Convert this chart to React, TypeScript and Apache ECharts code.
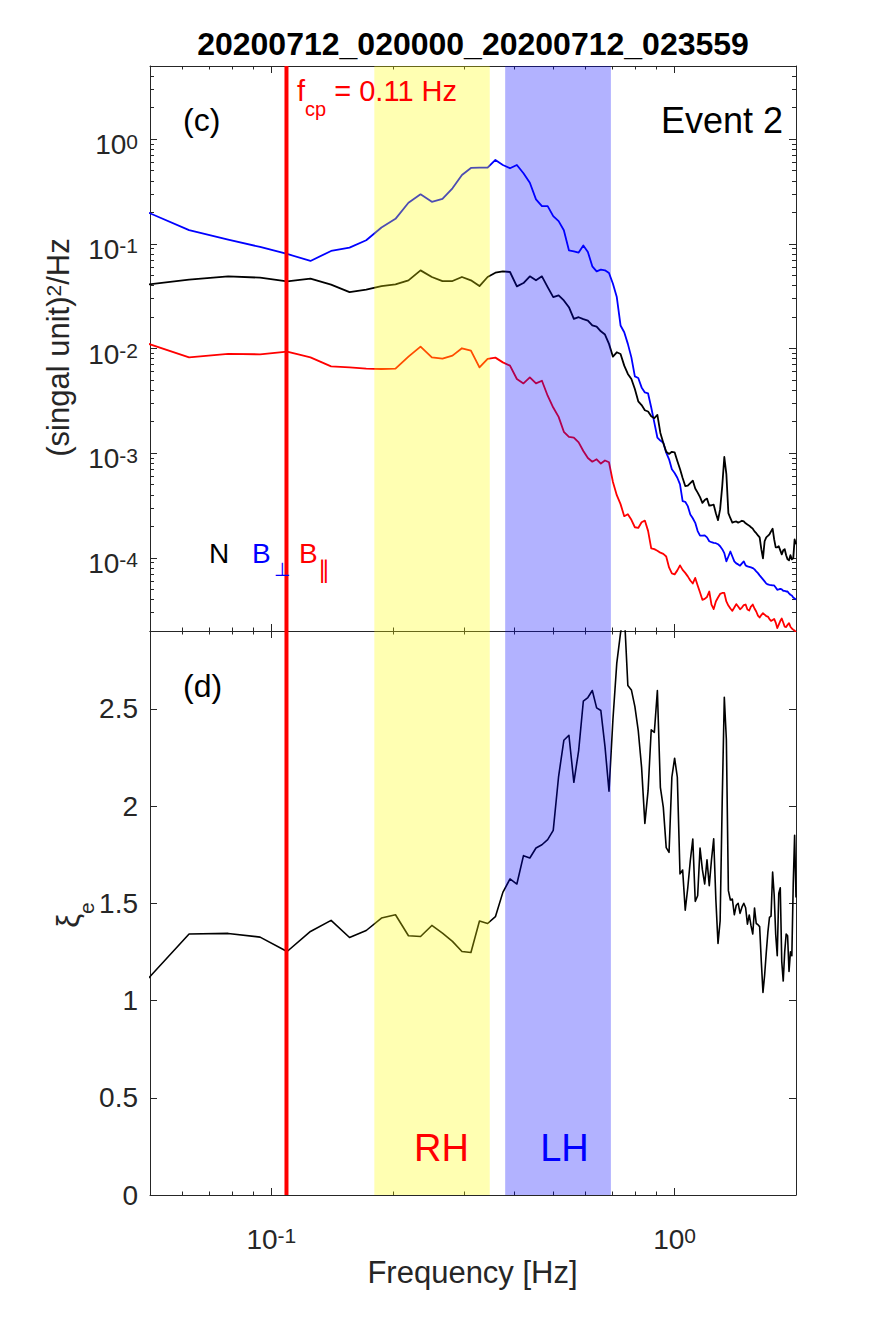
import React, { useEffect, useRef } from 'react';
import * as echarts from 'echarts';

// ---------------- data ----------------
const DF = 1 / 64; // spectral resolution (Hz)
const K_START = 3;
const K_END = 128;
const freqs: number[] = Array.from({ length: K_END - K_START + 1 }, (_, i) => (K_START + i) * DF);

// N  (black)
const nPower = [
  0.0399, 0.0455, 0.0489, 0.0475, 0.0438, 0.0465, 0.0407, 0.0346, 0.0365, 0.0395,
  0.041, 0.0448, 0.0558, 0.0482, 0.0441, 0.0441, 0.0482, 0.0448, 0.0395, 0.0482,
  0.053, 0.0546, 0.0538, 0.0392, 0.0422, 0.0489, 0.0448, 0.0489, 0.0386, 0.031,
  0.0322, 0.0288, 0.0248, 0.0192, 0.0199, 0.0191, 0.0185, 0.0166, 0.0162, 0.0146,
  0.0136, 0.01107, 0.00836, 0.0092, 0.00887, 0.00686, 0.00571, 0.00511, 0.0041, 0.00313,
  0.00288, 0.00257, 0.0025, 0.00225, 0.00216, 0.00232, 0.00156, 0.00125, 0.00103, 0.000983,
  0.00103, 0.00102, 0.000842, 0.000706, 0.000578, 0.000485, 0.00049, 0.000518, 0.000547, 0.000459,
  0.00042, 0.00038, 0.000335, 0.000356, 0.000368, 0.000315, 0.000318, 0.000322, 0.000267, 0.000229,
  0.000292, 0.000485, 0.000919, 0.000632, 0.000267, 0.000239, 0.000217, 0.000221, 0.000223, 0.000217,
  0.000221, 0.000226, 0.000223, 0.000214, 0.000208, 0.000203, 0.000196, 0.00019, 0.000179, 0.000172,
  0.000164, 0.000157, 0.000121, 9.89e-5, 0.000144, 0.000157, 0.000162, 0.000168, 0.000179, 0.00019,
  0.00015, 0.000126, 0.000126, 0.000129, 0.000118, 0.000108, 0.000118, 0.000121, 0.000106, 9.67e-5,
  9.46e-5, 0.000106, 9.67e-5, 9.89e-5, 0.00015, 0.000135,
];

// B perpendicular (blue)
const perpPower = [
  0.218, 0.135, 0.1095, 0.0934, 0.08, 0.0686, 0.0855, 0.0921, 0.1083, 0.1433,
  0.1733, 0.2467, 0.297, 0.252, 0.2694, 0.339, 0.4546, 0.5306, 0.534, 0.534,
  0.633, 0.567, 0.527, 0.567, 0.472, 0.3836, 0.2659, 0.2293, 0.2293, 0.1839,
  0.1647, 0.135, 0.0868, 0.0849, 0.0825, 0.0963, 0.0836, 0.061, 0.0546, 0.0567,
  0.0558, 0.0526, 0.0416, 0.031, 0.0166, 0.0143, 0.01107, 0.00823, 0.00541, 0.00523,
  0.00425, 0.0038, 0.00372, 0.00273, 0.00196, 0.00141, 0.00132, 0.00126, 0.00101, 0.000874,
  0.000701, 0.000646, 0.000582, 0.000503, 0.000348, 0.000343, 0.000312, 0.00026, 0.000239, 0.000216,
  0.00018, 0.000163, 0.000163, 0.000164, 0.000157, 0.000144, 0.000141, 0.000139, 0.000138, 0.000135,
  0.000129, 0.000121, 0.000111, 9.26e-5, 0.000103, 0.000115, 0.000103, 9.26e-5, 8.86e-5, 8.66e-5,
  8.42e-5, 8.86e-5, 9.26e-5, 8.47e-5, 8.29e-5, 8.2e-5, 8.1e-5, 7.98e-5, 7.76e-5, 7.43e-5,
  7.15e-5, 6.8e-5, 6.5e-5, 6.22e-5, 5.95e-5, 5.69e-5, 5.57e-5, 5.53e-5, 5.5e-5, 5.45e-5,
  5.45e-5, 5.21e-5, 4.95e-5, 4.99e-5, 5.06e-5, 4.99e-5, 4.85e-5, 4.84e-5, 4.77e-5, 4.77e-5,
  4.57e-5, 4.44e-5, 4.37e-5, 4.18e-5, 4.09e-5, 4.0e-5,
];

// B parallel (red)
const parPower = [
  0.0119, 0.00823, 0.00887, 0.0088, 0.00934, 0.00823, 0.00675, 0.0066, 0.00642, 0.00637,
  0.00642, 0.00836, 0.01043, 0.00823, 0.008, 0.00855, 0.01005, 0.00955, 0.0066, 0.00795,
  0.00818, 0.00737, 0.00686, 0.00511, 0.00464, 0.0053, 0.00464, 0.00492, 0.00354, 0.00273,
  0.00222, 0.0016, 0.00143, 0.00141, 0.00127, 0.00105, 0.000899, 0.000829, 0.000874, 0.000796,
  0.000851, 0.000818, 0.00053, 0.000397, 0.000326, 0.00025, 0.000261, 0.000231, 0.000196, 0.000193,
  0.000219, 0.000227, 0.000181, 0.000123, 0.000121, 0.000117, 0.000112, 0.000109, 0.000103, 8.1e-5,
  7.1e-5, 6.95e-5, 7.59e-5, 8.47e-5, 7.67e-5, 7.18e-5, 6.65e-5, 6.08e-5, 5.69e-5, 6.43e-5,
  5.45e-5, 4.67e-5, 3.97e-5, 4.05e-5, 4.23e-5, 4.77e-5, 3.58e-5, 3.24e-5, 3.83e-5, 4.18e-5,
  4.52e-5, 4.62e-5, 4.62e-5, 3.83e-5, 3.5e-5, 3.28e-5, 3.12e-5, 3.35e-5, 3.61e-5, 3.43e-5,
  3.23e-5, 3.35e-5, 3.54e-5, 3.58e-5, 3.21e-5, 3.14e-5, 3.43e-5, 3.58e-5, 3.28e-5, 3.07e-5,
  2.81e-5, 2.69e-5, 2.84e-5, 2.96e-5, 2.87e-5, 2.78e-5, 2.75e-5, 2.6e-5, 2.5e-5, 2.55e-5,
  2.61e-5, 2.41e-5, 2.13e-5, 2.3e-5, 2.49e-5, 2.63e-5, 2.41e-5, 2.2e-5, 2.18e-5, 2.29e-5,
  2.38e-5, 2.2e-5, 2.11e-5, 2.06e-5, 2.02e-5, 1.95e-5,
];

// xi_e (bottom panel)
const xiE = [
  1.06, 1.342, 1.345, 1.326, 1.252, 1.355, 1.412, 1.324, 1.36, 1.424,
  1.441, 1.333, 1.329, 1.386, 1.347, 1.304, 1.252, 1.247, 1.409, 1.396,
  1.431, 1.556, 1.625, 1.599, 1.745, 1.733, 1.784, 1.801, 1.827, 1.875,
  2.153, 2.338, 2.364, 2.122, 2.285, 2.539, 2.558, 2.594, 2.505, 2.491,
  2.307, 2.076, 2.445, 2.735, 2.89, 3.0, 2.62, 2.597, 2.512, 2.388,
  2.199, 1.911, 2.079, 2.392, 2.379, 2.594, 2.096, 1.993, 1.786, 1.762,
  2.148, 2.246, 2.148, 1.651, 1.671, 1.465, 1.58, 1.72, 1.83, 1.51,
  1.539, 1.784, 1.673, 1.599, 1.723, 1.59, 1.724, 1.831, 1.518, 1.293,
  1.41, 2.033, 2.559, 2.342, 1.565, 1.517, 1.522, 1.441, 1.49, 1.5,
  1.448, 1.48, 1.5, 1.477, 1.393, 1.44, 1.385, 1.342, 1.476, 1.396,
  1.39, 1.38, 1.2, 1.041, 1.13, 1.245, 1.35, 1.427, 1.434, 1.66,
  1.544, 1.338, 1.23, 1.55, 1.58, 1.2, 1.1, 1.25, 1.342, 1.333,
  1.15, 1.25, 1.23, 1.6, 1.85, 1.53,
];

const fcp = 0.109;
const bands: [number, number][] = [[0.18, 0.348], [0.38, 0.695]];
const bandColors = ['rgba(255,255,0,0.3)', 'rgba(0,0,255,0.3)'];

const xMajor = [0.1, 1];
const xMinor = [0.05, 0.06, 0.07, 0.08, 0.09, 0.2, 0.3, 0.4, 0.5, 0.6, 0.7, 0.8, 0.9, 2];
const yMajor = [1e-4, 1e-3, 1e-2, 1e-1, 1];
const yMinor = [
  2e-5, 3e-5, 4e-5, 5e-5, 6e-5, 7e-5, 8e-5, 9e-5,
  2e-4, 3e-4, 4e-4, 5e-4, 6e-4, 7e-4, 8e-4, 9e-4,
  2e-3, 3e-3, 4e-3, 5e-3, 6e-3, 7e-3, 8e-3, 9e-3,
  0.02, 0.03, 0.04, 0.05, 0.06, 0.07, 0.08, 0.09,
  0.2, 0.3, 0.4, 0.5, 0.6, 0.7, 0.8, 0.9,
  2, 3, 4, 5,
];
const y2Ticks = [0, 0.5, 1, 1.5, 2, 2.5];

// ---------------- styles ----------------
const FONT = '"Liberation Sans", Arial, Helvetica, sans-serif';
const SYM = '"DejaVu Sans", "Noto Sans", sans-serif';
const AX = '#262626';
const tickStyle = { color: AX, width: 1 };

const powRich = {
  b: { fontSize: 28, lineHeight: 28, verticalAlign: 'bottom', fontFamily: FONT, color: AX },
  s: { fontSize: 21, lineHeight: 21, padding: [0, 0, 12, 0], verticalAlign: 'top', fontFamily: FONT, color: AX },
};
const powLabel = (v: number) => `{b|10}{s|${Math.round(Math.log10(v))}}`;

function xAx(grid: number, position: 'top' | 'bottom', values: number[], len: number, line: boolean, label?: any) {
  return {
    type: 'log', logBase: 10, gridIndex: grid, position, min: 0.05, max: 2,
    axisLine: { show: line, onZero: false, lineStyle: tickStyle },
    axisTick: { show: true, inside: true, length: len, customValues: values, lineStyle: tickStyle },
    axisLabel: label ?? { show: false },
    minorTick: { show: false }, splitLine: { show: false },
  };
}
function yLogAx(position: 'left' | 'right', values: number[], len: number, line: boolean, label?: any) {
  return {
    type: 'log', logBase: 10, gridIndex: 0, position, min: 2e-5, max: 5,
    axisLine: { show: line, onZero: false, lineStyle: tickStyle },
    axisTick: { show: true, inside: true, length: len, customValues: values, lineStyle: tickStyle },
    axisLabel: label ?? { show: false },
    minorTick: { show: false }, splitLine: { show: false },
  };
}
function yLinAx(position: 'left' | 'right', label?: any) {
  return {
    type: 'value', gridIndex: 1, position, min: 0, max: 2.9,
    axisLine: { show: true, onZero: false, lineStyle: tickStyle },
    axisTick: { show: true, inside: true, length: 7, customValues: y2Ticks, lineStyle: tickStyle },
    axisLabel: label ?? { show: false },
    splitLine: { show: false },
  };
}

function txt(x: number, y: number, text: string, size: number, fill: string, align = 'left', vAlign = 'middle', extra: any = {}) {
  return {
    type: 'text', x, y, z: 100, silent: true,
    style: {
      text, fill, fontSize: size, fontFamily: FONT,
      align, verticalAlign: vAlign, textAlign: align, textVerticalAlign: vAlign, ...extra,
    },
  };
}

function bandSeries(grid: number) {
  return {
    type: 'custom', xAxisIndex: grid === 0 ? 0 : 4, yAxisIndex: grid === 0 ? 0 : 4,
    silent: true, z: 5, clip: true,
    data: bands.map((b) => [b[0], b[1]]),
    renderItem: (params: any, api: any) => {
      const cs = params.coordSys;
      const a = api.coord([api.value(0), 1])[0];
      const b = api.coord([api.value(1), 1])[0];
      return {
        type: 'rect',
        shape: { x: a, y: cs.y, width: b - a, height: cs.height },
        style: { fill: bandColors[params.dataIndex] },
      };
    },
  };
}
function vlineSeries(grid: number) {
  return {
    type: 'custom', xAxisIndex: grid === 0 ? 0 : 4, yAxisIndex: grid === 0 ? 0 : 4,
    silent: true, z: 6, clip: true,
    data: [[fcp, 1]],
    renderItem: (params: any, api: any) => {
      const cs = params.coordSys;
      const x = api.coord([api.value(0), 1])[0];
      return {
        type: 'line',
        shape: { x1: x, y1: cs.y, x2: x, y2: cs.y + cs.height },
        style: { stroke: '#ff0000', lineWidth: 4 },
      };
    },
  };
}

function lineSeries(grid: number, vals: number[], color: string, width: number) {
  return {
    type: 'line', xAxisIndex: grid === 0 ? 0 : 4, yAxisIndex: grid === 0 ? 0 : 4,
    data: freqs.map((f, i) => [f, vals[i]]).filter((p) => p[1] !== undefined),
    showSymbol: false, symbol: 'none', clip: true, z: 3,
    lineStyle: { color, width, join: 'round' }, itemStyle: { color },
  };
}

const option: any = {
  animation: false,
  backgroundColor: '#ffffff',
  grid: [
    { left: 150, top: 66, width: 646, height: 565 },
    { left: 150, top: 631, width: 646, height: 564 },
  ],
  xAxis: [
    xAx(0, 'bottom', xMajor, 7, true),
    xAx(0, 'bottom', xMinor, 3.5, false),
    xAx(0, 'top', xMajor, 7, true),
    xAx(0, 'top', xMinor, 3.5, false),
    xAx(1, 'bottom', xMajor, 7, true, {
      show: true, customValues: xMajor, formatter: powLabel, rich: powRich, margin: 30,
    }),
    xAx(1, 'bottom', xMinor, 3.5, false),
    xAx(1, 'top', xMajor, 7, true),
    xAx(1, 'top', xMinor, 3.5, false),
  ],
  yAxis: [
    yLogAx('left', yMajor, 7, true, {
      show: true, customValues: yMajor, formatter: powLabel, rich: powRich, margin: 12, padding: [11, 0, 0, 0],
    }),
    yLogAx('left', yMinor, 4, false),
    yLogAx('right', yMajor, 7, true),
    yLogAx('right', yMinor, 4, false),
    yLinAx('left', {
      show: true, customValues: y2Ticks, margin: 12, fontSize: 28, fontFamily: FONT, color: AX,
    }),
    yLinAx('right'),
  ],
  series: [
    lineSeries(0, perpPower, '#0000ff', 1.8),
    lineSeries(0, nPower, '#000000', 1.8),
    lineSeries(0, parPower, '#ff0000', 1.8),
    bandSeries(0),
    vlineSeries(0),
    lineSeries(1, xiE, '#000000', 1.6),
    bandSeries(1),
    vlineSeries(1),
  ],
  graphic: [
    txt(473, 44, '20200712_020000_20200712_023559', 32, '#000000', 'center', 'middle', { fontWeight: 'bold' }),
    txt(183, 120, '(c)', 32, '#000000'),
    txt(783, 120, 'Event 2', 36, '#000000', 'right'),
    txt(297, 76, '{f|f}{c|cp}{f| = 0.11 Hz}', 29, '#ff0000', 'left', 'top', {
      rich: {
        f: { fontSize: 29, lineHeight: 29, verticalAlign: 'top', fontFamily: FONT, fill: '#ff0000' },
        c: { fontSize: 20, lineHeight: 20, padding: [23, 0, 0, 0], verticalAlign: 'top', fontFamily: FONT, fill: '#ff0000' },
      },
    }),
    txt(183, 686, '(d)', 32, '#000000'),
    txt(209, 553, 'N', 28, '#000000'),
    txt(252, 553, 'B', 28, '#0000ff'),
    txt(274, 569, '\u22A5', 19, '#0000ff', 'left', 'middle', { fontFamily: SYM }),
    txt(299, 553, 'B', 28, '#ff0000'),
    txt(318, 570, '\u2225', 24, '#ff0000', 'left', 'middle', { fontFamily: SYM }),
    txt(441.5, 1148, 'RH', 38, '#ff0000', 'center'),
    txt(564.5, 1148, 'LH', 38, '#0000ff', 'center'),
    txt(472.5, 1272, 'Frequency [Hz]', 31, AX, 'center'),
    {
      type: 'text', x: 58, y: 347.5, rotation: Math.PI / 2, z: 100, silent: true,
      style: {
        text: '{a|(singal unit)}{s|2}{a|/Hz}', fill: AX, align: 'center', verticalAlign: 'middle',
        textAlign: 'center', textVerticalAlign: 'middle',
        rich: {
          a: { fontSize: 31, lineHeight: 31, verticalAlign: 'bottom', fontFamily: FONT, fill: AX },
          s: { fontSize: 21, lineHeight: 21, padding: [0, 0, 25, 0], verticalAlign: 'top', fontFamily: FONT, fill: AX },
        },
      },
    },
    {
      type: 'text', x: 68.5, y: 915, rotation: Math.PI / 2, z: 100, silent: true,
      style: {
        text: '{x|\u03BE}{e|e}', fill: AX, align: 'center', verticalAlign: 'middle',
        textAlign: 'center', textVerticalAlign: 'middle',
        rich: {
          x: { fontSize: 31, lineHeight: 31, verticalAlign: 'top', fontFamily: FONT, fill: AX },
          e: { fontSize: 21, lineHeight: 21, padding: [23, 0, 0, 0], verticalAlign: 'top', fontFamily: FONT, fill: AX },
        },
      },
    },
  ],
};

export default function App() {
  const ref = useRef<HTMLDivElement>(null);
  useEffect(() => {
    document.body.style.margin = '0';
    const chart = echarts.init(ref.current as HTMLDivElement, undefined, { renderer: 'svg' });
    chart.setOption(option);
    return () => chart.dispose();
  }, []);
  return <div ref={ref} style={{ width: 885, height: 1329 }} />;
}
